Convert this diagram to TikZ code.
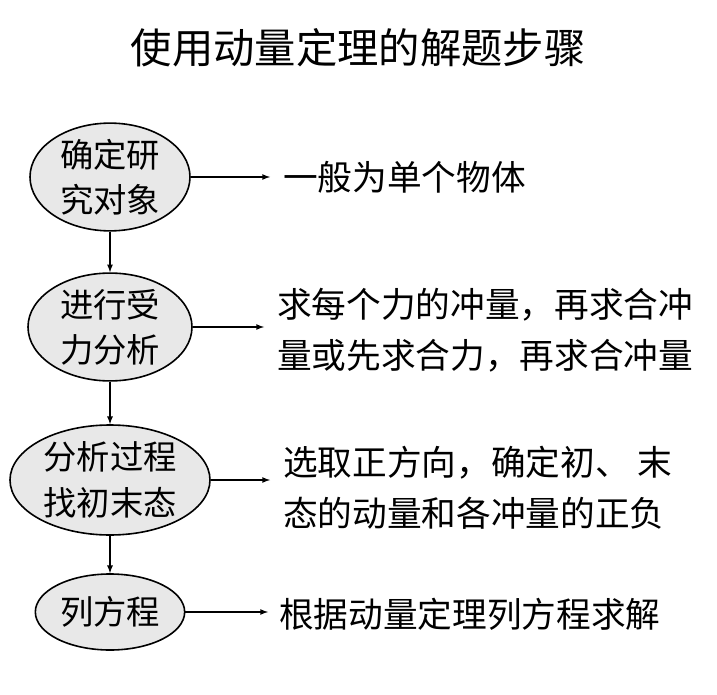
\documentclass[tikz,border=0pt]{standalone}
\usepackage{fontspec}
\setmainfont{Noto Sans CJK SC}
\usetikzlibrary{positioning,shapes.geometric}
\tikzset{
	stepell/.style={ellipse,draw,line width=1.2pt,fill={rgb,255:red,232;green,232;blue,232},inner sep=0pt,align=center,font=\fontsize{25}{34}\selectfont},
	note/.style={anchor=west,inner sep=0.75pt,align=left,font=\fontsize{26}{38}\selectfont},
	flow/.style={-latex,line width=1pt}
}
\begin{document}
\begin{tikzpicture}[x=0.75pt,y=0.75pt,yscale=-1,xscale=1]
	\useasboundingbox (0,0) rectangle (717,695);
	\node (title) at (358,48) {\fontsize{31}{36}\selectfont 使用动量定理的解题步骤};
	% steps
	\node [stepell,minimum width=120pt,minimum height=67.5pt] (s1) at (110,177) {确定研\\究对象};
	\node [stepell,minimum width=123pt,minimum height=67.5pt] (s2) at (110,327) {进行受\\力分析};
	\node [stepell,minimum width=150pt,minimum height=82.5pt] (s3) at (110,480) {分析过程\\找初末态};
	\node [stepell,minimum width=112pt,minimum height=57pt] (s4) at (110,612) {列方程};
	\draw [flow] (s1) -- (s2);
	\draw [flow] (s2) -- (s3);
	\draw [flow] (s3) -- (s4);
	% notes
	\node [note] (n1) at (282,177) {一般为单个物体};
	\node [note] (n2) at (276,330) {求每个力的冲量，再求合冲\\量或先求合力，再求合冲量};
	\node [note] (n3) at (282,488) {选取正方向，确定初、 末\\态的动量和各冲量的正负};
	\node [note] (n4) at (278,614) {根据动量定理列方程求解};
	\draw [flow] (s1.east) -- (270,177);
	\draw [flow] (s2.east) -- (264,327);
	\draw [flow] (s3.east) -- (270,480);
	\draw [flow] (s4.east) -- (268,612);
\end{tikzpicture}
\end{document}
